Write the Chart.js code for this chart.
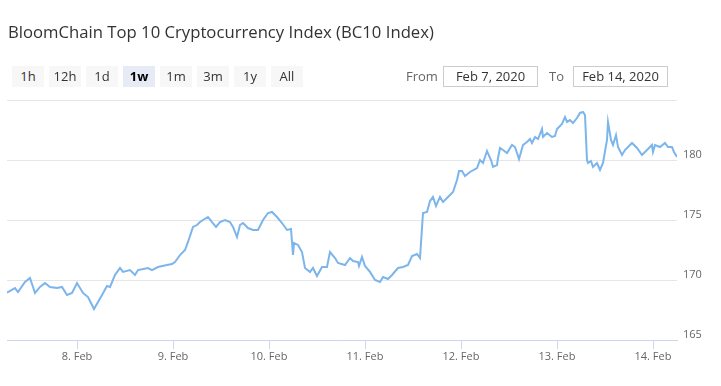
<!DOCTYPE html>
<html>
<head>
<meta charset="utf-8">
<script src="https://cdn.jsdelivr.net/npm/chart.js@4/dist/chart.umd.min.js"></script>
<style>
  body { margin: 0; background: #fff; font-family: "Open Sans", sans-serif; color: #333; }
  #wrap { position: relative; width: 721px; height: 386px; overflow: hidden; }
  #chart { position: absolute; left: 0; top: 0; }
  .title { position: absolute; left: 8px; top: 22px; font-size: 16.7px; line-height: 20px; white-space: nowrap; }
  .btn { position: absolute; top: 66px; width: 32px; height: 21px; line-height: 21px; background: #f7f7f7;
         text-align: center; font-size: 13px; color: #333; }
  .btn.sel { background: #e6ebf5; font-weight: bold; color: #000; }
  .lbl { position: absolute; top: 66px; height: 21px; line-height: 21px; font-size: 13px; color: #666; }
  .inp { position: absolute; top: 66px; width: 93px; height: 19px; line-height: 19px; border: 1px solid #ccc;
         text-align: center; font-size: 13px; color: #333; }
</style>
</head>
<body>
<div id="wrap">
  <canvas id="chart" width="721" height="386"></canvas>
  <div class="title">BloomChain Top 10 Cryptocurrency Index (BC10 Index)</div>
  <div id="buttons"></div>
  <div class="lbl" style="left:406px">From</div>
  <div class="inp" style="left:443px">Feb 7, 2020</div>
  <div class="lbl" style="left:549px">To</div>
  <div class="inp" style="left:573px">Feb 14, 2020</div>
</div>
<script>
// range selector buttons
const rangeButtons = ["1h", "12h", "1d", "1w", "1m", "3m", "1y", "All"];
const selectedRange = "1w";

// time in hours since Feb 7 00:00
const hours = [
  6.5, 8.5, 9.25, 11, 12.25, 13.5, 14.75, 16, 17.25, 19, 20.25, 21.5, 22.75,
  24, 25.5, 26.75, 28.25, 29.25, 30.25, 31.5, 32.25, 33.5, 34.75, 35.5, 37.25,
  38.5, 39.25, 41.75, 42.75, 44.25, 46.5, 47.75, 48.5, 49.75, 51, 51.75, 53,
  54, 54.75, 55.5, 56.75, 57.75, 58.75, 59.75, 61, 62.25, 63, 64, 64.75, 65.5,
  66.75, 68, 69.25, 70.5, 71.75, 72.75, 74, 75.25, 76.5, 77.5, 78, 78.25,
  79.25, 80.25, 81, 82.25, 83, 84, 85.25, 86.5, 87.25, 88.5, 89.25, 91, 92.25,
  93, 94.25, 94.5, 95.25, 96, 97.25, 98.5, 99.75, 100.5, 101.75, 102.75,
  104.25, 105.5, 106.75, 107.75, 109, 109.75, 110.5, 111.5, 112.25, 113,
  113.75, 114.75, 115.5, 116.5, 118, 119, 119.5, 120.25, 121, 122.25, 124,
  124.75, 125.5, 126.5, 127.5, 128, 129, 129.25, 129.75, 130.5, 131.5, 132.75,
  133.5, 134.5, 135.5, 136.5, 137.25, 137.75, 138.5, 139.25, 140.25, 140.5,
  141.5, 142.75, 143.5, 144, 145.25, 146, 146.5, 147.25, 148, 149, 149.75,
  150.5, 151, 151.5, 151.75, 152.5, 153, 154, 154.75, 155.5, 156.5, 156.75,
  157.5, 158, 158.75, 159.25, 160.25, 161, 162.75, 164, 165.25, 166.5, 167.75,
  168, 168.5, 169.75, 171, 171.75, 172.75, 173.25, 174
];

// BC10 index values
const values = [
  168.94, 169.33, 169.0, 169.83, 170.17, 168.92, 169.42, 169.75, 169.42, 169.33, 169.42, 168.75, 168.92,
  169.75, 168.92, 168.58, 167.58, 168.17, 168.75, 169.5, 169.42, 170.42, 171.0, 170.67, 170.83,
  170.42, 170.83, 171.0, 170.83, 171.08, 171.25, 171.33, 171.5, 172.08, 172.5, 173.17, 174.42,
  174.58, 174.83, 175.0, 175.25, 174.83, 174.42, 174.83, 175.0, 174.83, 174.42, 173.58, 174.58, 174.75,
  174.33, 174.17, 174.17, 175.0, 175.58, 175.67, 175.25, 174.75, 174.17, 174.25, 172.08, 173.08,
  172.92, 172.33, 171.0, 170.67, 171.0, 170.33, 171.08, 171.08, 172.33, 171.83, 171.42, 171.25, 171.83,
  171.58, 171.5, 171.17, 171.92, 171.17, 170.67, 170.0, 169.83, 170.25, 170.08, 170.42,
  171.0, 171.08, 171.25, 172.0, 172.17, 171.83, 175.58, 175.67, 176.58, 176.92,
  176.17, 176.92, 176.5, 176.83, 177.33, 178.33, 179.08, 179.08, 178.67, 179.0, 179.33,
  180.0, 179.75, 180.75, 180.0, 179.42, 179.58, 180.17, 181.0, 180.83, 180.58, 181.25,
  181.08, 180.08, 181.25, 181.5, 181.75, 181.42, 181.92, 181.75, 182.58, 181.92,
  182.25, 181.92, 182.0, 182.58, 183.0, 183.58, 183.17, 183.33, 183.08, 183.5, 183.92,
  184.0, 183.75, 180.0, 179.75, 179.92, 179.42, 179.75, 179.17, 179.75, 181.67, 183.17,
  181.67, 181.25, 182.08, 181.08, 180.42, 180.83, 181.42, 181.0, 180.42, 180.83, 181.25,
  180.67, 181.25, 181.08, 181.42, 181.08, 181.08, 180.67, 180.25
];

// x axis ticks (hours since Feb 7) and their labels
const xTickHours = [24, 48, 72, 96, 120, 144, 168];
const xTickLabels = ["8. Feb", "9. Feb", "10. Feb", "11. Feb", "12. Feb", "13. Feb", "14. Feb"];

// y axis ticks
const yTicks = [165, 170, 175, 180, 185];

const btnBox = document.getElementById("buttons");
rangeButtons.forEach((b, i) => {
  const d = document.createElement("div");
  d.className = "btn" + (b === selectedRange ? " sel" : "");
  d.style.left = (12 + i * 37) + "px";
  d.textContent = b;
  btnBox.appendChild(d);
});

const points = hours.map((h, i) => ({ x: h, y: values[i] }));

new Chart(document.getElementById("chart").getContext("2d"), {
  type: "line",
  data: {
    datasets: [
      {
        data: points,
        borderColor: "#7cb5ec",
        borderWidth: 2,
        pointRadius: 0,
        tension: 0,
        fill: false,
      },
    ],
  },
  options: {
    responsive: false,
    animation: false,
    events: [],
    layout: { padding: { top: 100, left: 7, right: 0, bottom: 0 } },
    plugins: { legend: { display: false }, tooltip: { enabled: false } },
    scales: {
      x: {
        type: "linear",
        min: 6.5,
        max: 174,
        afterBuildTicks: (axis) => {
          axis.ticks = xTickHours.map((v) => ({ value: v }));
        },
        afterFit: (axis) => {
          axis.height = 46;
        },
        grid: {
          drawOnChartArea: false,
          drawTicks: true,
          tickLength: 9,
          color: "#ccd6eb",
        },
        border: { color: "#ccd6eb", width: 1 },
        ticks: {
          autoSkip: false,
          maxRotation: 0,
          padding: 1,
          color: "#666",
          font: { family: "Open Sans", size: 11 },
          callback: (v) => {
            const idx = xTickHours.indexOf(v);
            return idx >= 0 ? xTickLabels[idx] : "";
          },
        },
      },
      y: {
        position: "right",
        min: 165,
        max: 185,
        afterBuildTicks: (axis) => {
          axis.ticks = yTicks.map((v) => ({ value: v }));
        },
        afterFit: (axis) => {
          axis.width = 44;
        },
        grid: { color: "#e6e6e6", drawTicks: false },
        border: { display: false },
        ticks: {
          padding: 6,
          labelOffset: -5,
          color: "#666",
          font: { family: "Open Sans", size: 11 },
          callback: (v) => (v === 185 ? "" : v),
        },
      },
    },
  },
});
</script>
</body>
</html>
